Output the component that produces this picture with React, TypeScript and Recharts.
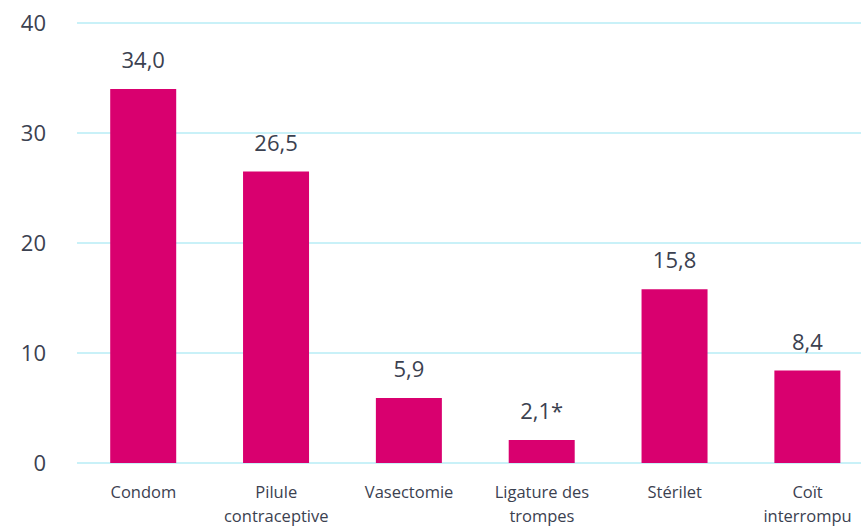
import { BarChart, Bar, XAxis, YAxis, CartesianGrid, LabelList } from 'recharts';

const categories = ['Condom', 'Pilule contraceptive', 'Vasectomie', 'Ligature des trompes', 'Stérilet', 'Coït interrompu'];
const categoryLines = [['Condom'], ['Pilule', 'contraceptive'], ['Vasectomie'], ['Ligature des', 'trompes'], ['Stérilet'], ['Coït', 'interrompu']];
const values = [34.0, 26.5, 5.9, 2.1, 15.8, 8.4];
const valueLabels = ['34,0', '26,5', '5,9', '2,1*', '15,8', '8,4'];
const yTicks = [0, 10, 20, 30, 40];

const FONT = "'Open Sans', sans-serif";
const TEXT = '#3b4150';

const data = categories.map((name, i) => ({
    name,
    value: values[i],
    label: valueLabels[i],
}));

function CategoryTick({ x, y, index }: any) {
    const lines = categoryLines[index] || [];
    return (
        <text x={x} y={y} textAnchor="middle" fill={TEXT} fontSize={16.5} fontFamily={FONT}>
            {lines.map((line: string, i: number) => (
                <tspan key={i} x={x} dy={i === 0 ? 27 : 24}>{line}</tspan>
            ))}
        </text>
    );
}

export default function App() {
    // the plot area runs a little past the right edge, as in the original
    return (
        <div style={{ position: 'absolute', left: 0, top: 0, width: 861, height: 527, overflow: 'hidden', background: '#fff' }}>
            <BarChart
                width={874}
                height={527}
                data={data}
                margin={{ top: 23, right: 0, left: 0, bottom: 0 }}
                barCategoryGap="25%"
            >
                <CartesianGrid vertical={false} stroke="#c9f1f8" strokeWidth={2} />
                <XAxis
                    dataKey="name"
                    axisLine={false}
                    tickLine={false}
                    height={64}
                    interval={0}
                    tick={<CategoryTick />}
                />
                <YAxis
                    domain={[0, 40]}
                    ticks={yTicks}
                    width={77}
                    axisLine={false}
                    tickLine={false}
                    tickSize={0}
                    tickMargin={31}
                    tick={{ fontSize: 22, fill: TEXT, fontFamily: FONT }}
                />
                <Bar dataKey="value" fill="#d9006f" isAnimationActive={false}>
                    <LabelList
                        dataKey="label"
                        position="top"
                        offset={21}
                        style={{ fontSize: 22, fill: TEXT, fontFamily: FONT }}
                    />
                </Bar>
            </BarChart>
        </div>
    );
}
